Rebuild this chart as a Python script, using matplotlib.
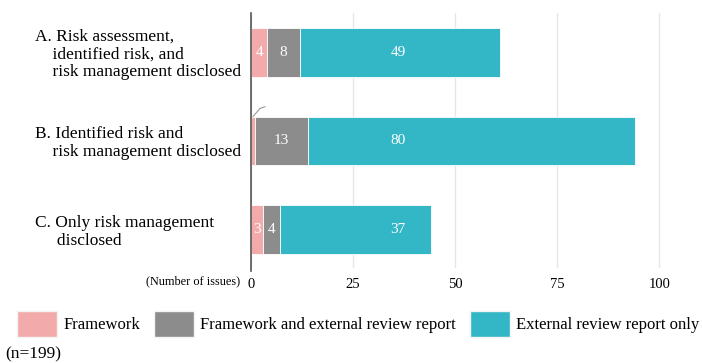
import numpy as np
from matplotlib import pyplot as plt
from matplotlib.patches import Patch
from matplotlib.transforms import blended_transform_factory

categories = [
    ["A. Risk assessment,", "    identified risk, and", "    risk management disclosed"],
    ["B. Identified risk and", "    risk management disclosed"],
    ["C. Only risk management", "     disclosed"],
]
framework = [4, 1, 3]
framework_review = [8, 13, 4]
review_only = [49, 80, 37]
series_names = ["Framework", "Framework and external review report",
                "External review report only"]
colors = ["#F2AAAA", "#8C8C8C", "#33B6C5"]
x_ticks = [0, 25, 50, 75, 100]

plt.rcParams['font.family'] = ['Liberation Serif', 'DejaVu Serif']

fig = plt.figure(figsize=(7.02, 3.63), dpi=100)
ax = fig.add_axes([0.3575, 0.262, 0.64, 0.702])

y = np.arange(len(categories))
left = np.zeros(len(categories))
h = 0.55
for vals, col, name in zip([framework, framework_review, review_only], colors, series_names):
    vals = np.array(vals)
    ax.barh(y, vals, left=left, height=h, color=col, edgecolor='white',
            linewidth=0.6, label=name, zorder=2)
    for i, v in enumerate(vals):
        if v < 2:
            continue
        # teal segment labels sit at a common position
        cx = 36 if name == series_names[2] else left[i] + v / 2
        ax.text(cx, y[i], str(v), color='white', ha='center', va='center',
                fontsize=11, zorder=3)
    left += vals

# small leader line on the tiny B segment
ax.plot([0.5, 2.2, 3.4], [1 - h / 2, 1 - h / 2 - 0.09, 1 - h / 2 - 0.11],
        color='#999999', lw=0.8, zorder=3)

ax.set_xlim(0, 110)
ax.set_ylim(2.43, -0.44)
ax.set_xticks(x_ticks)
ax.set_xticklabels([str(t) for t in x_ticks], fontsize=10.5)
ax.tick_params(axis='x', length=0, pad=7)
ax.set_yticks([])
ax.grid(axis='x', color='#e6e6e6', lw=1, zorder=0)
for s in ['top', 'right', 'bottom']:
    ax.spines[s].set_visible(False)
ax.spines['left'].set_color('#555555')
ax.spines['left'].set_linewidth(1.2)
ax.spines['left'].set_bounds(2.43 + 0.03, -0.44)
ax.spines['left'].set_zorder(4)

tr = blended_transform_factory(fig.transFigure, ax.transData)
for i, lines in enumerate(categories):
    n = len(lines)
    for k, line in enumerate(lines):
        ax.text(35 / 702, y[i] + (k - (n - 1) / 2) * 0.2 + 0.025, line,
                transform=tr, ha='left', va='center', fontsize=12.5)

fig.text(240 / 702, 1 - 281 / 363, "(Number of issues)", ha='right',
         va='center', fontsize=8.8)

handles = [Patch(facecolor=c, edgecolor='#f4f4f4') for c in colors]
fig.legend(handles, series_names, loc='center left', ncol=3,
           bbox_to_anchor=(17 / 702, 1 - 324 / 363), frameon=False,
           fontsize=12.0, handlelength=2.4, handleheight=2.0,
           handletextpad=0.4, columnspacing=0.8, borderpad=0, borderaxespad=0)

fig.text(5 / 702, 1 - 354 / 363, "(n=199)", ha='left', va='center', fontsize=12.5)

fig.savefig('out.png', dpi=100)
